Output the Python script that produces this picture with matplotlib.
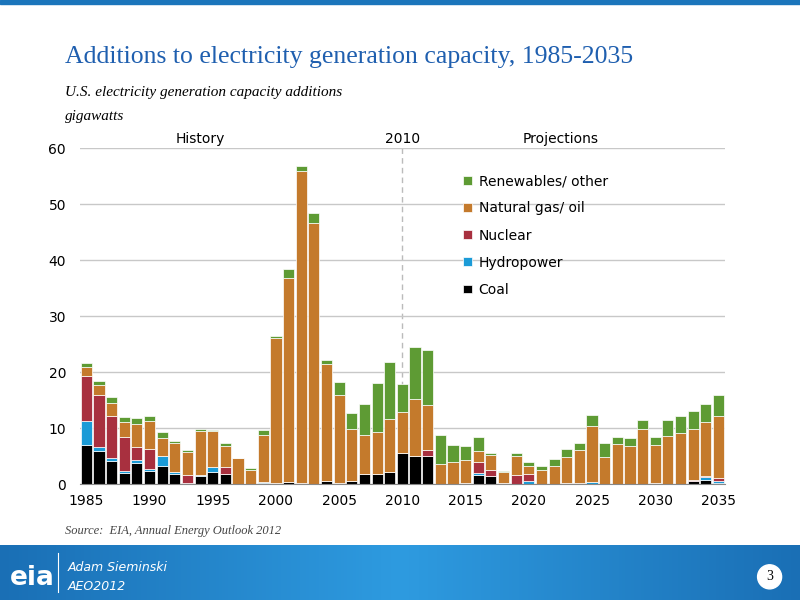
import matplotlib
matplotlib.use("Agg")
import matplotlib.pyplot as plt
import numpy as np
from matplotlib.patches import Rectangle, Ellipse

years = np.arange(1985, 2036)
coal = [7.0, 6.0, 4.2, 2.0, 3.7, 2.3, 3.3, 1.8, 0.2, 1.4, 2.1, 1.8, 0, 0, 0.3,
        0.2, 0.4, 0, 0, 0.5, 0.3, 0.5, 1.8, 1.8, 2.1, 5.5, 5.0, 5.0,
        0, 0, 0, 1.7, 1.4, 0.3, 0, 0, 0, 0, 0, 0, 0, 0, 0, 0, 0, 0, 0, 0, 0.5, 0.8, 0.3]
hydro = [4.2, 0.7, 0.4, 0.4, 0.6, 0.5, 1.7, 0.3, 0.1, 0.2, 1.0, 0, 0, 0, 0.1,
         0, 0, 0.3, 0, 0, 0, 0, 0, 0, 0, 0, 0, 0,
         0, 0, 0.3, 0.3, 0, 0, 0, 0.5, 0, 0, 0.2, 0.2, 0.4, 0.1, 0.1, 0.1, 0.1, 0.3, 0.1, 0.1, 0, 0.4, 0.3]
nuclear = [8.1, 9.2, 7.5, 6.0, 2.3, 3.5, 0, 0, 1.4, 0, 0, 1.2, 0, 0, 0,
           0, 0, 0, 0, 0, 0, 0, 0, 0, 0, 0, 0, 1.1,
           0, 0, 0, 2.0, 1.1, 0, 1.7, 1.4, 0, 0, 0, 0, 0, 0, 0, 0, 0, 0, 0, 0, 0.3, 0.3, 0.5]
gas = [1.7, 1.8, 2.4, 2.7, 4.1, 4.9, 3.3, 5.3, 4.0, 7.9, 6.4, 3.9, 4.6, 2.5, 8.35,
       25.9, 36.4, 55.6, 46.7, 21.0, 15.7, 9.3, 6.95, 7.5, 9.5, 7.4, 10.3, 8.0,
       3.6, 4.05, 4.0, 2.0, 2.8, 1.8, 3.3, 1.4, 2.6, 3.2, 4.6, 5.9, 10.0, 4.7, 7.0, 6.8,
       9.8, 6.7, 8.5, 9.0, 9.1, 9.6, 11.1]
renew = [0.6, 0.8, 1.0, 0.9, 1.1, 0.9, 1.0, 0.4, 0.4, 0.4, 0.2, 0.5, 0.1, 0.4, 0.85,
         0.3, 1.7, 0.9, 1.8, 0.6, 2.2, 2.9, 5.65, 8.7, 10.2, 5.0, 9.2, 9.9,
         5.15, 2.95, 2.5, 2.5, 0.2, 0.2, 0.5, 0.7, 0.7, 1.3, 1.45, 1.3, 1.9, 2.5, 1.3, 1.4,
         1.5, 1.4, 2.8, 3.0, 3.2, 3.3, 3.8]

series = [("Coal", coal, "#000000"), ("Hydropower", hydro, "#1B9BD7"),
          ("Nuclear", nuclear, "#A8303F"), ("Natural gas/ oil", gas, "#C47A2C"),
          ("Renewables/ other", renew, "#5E9B34")]

fig = plt.figure(figsize=(8, 6), dpi=100)
ax = fig.add_axes([0.1, 0.193, 0.806, 0.56])

bottom = np.zeros(len(years))
handles = []
for name, vals, col in series:
    vals = np.array(vals, dtype=float)
    b = ax.bar(years, vals, 0.88, bottom=bottom, color=col, edgecolor="white",
               linewidth=0.5, label=name)
    handles.append(b)
    bottom += vals

ax.set_xlim(1984.5, 2035.5)
ax.set_ylim(0, 60)
ax.set_yticks(range(0, 61, 10))
ax.set_xticks(range(1985, 2036, 5))
ax.tick_params(labelsize=10, length=0)
ax.tick_params(axis="y", pad=10)
ax.tick_params(axis="x", length=4, direction="in", color="#888888", pad=7)
ax.yaxis.grid(True, color="#c8c8c8", lw=1)
ax.set_axisbelow(True)
for s in ["top", "right", "left"]:
    ax.spines[s].set_visible(False)
ax.spines["bottom"].set_color("#888888")
ax.axvline(2010, color="#bbbbbb", ls=(0, (4, 3)), lw=1, zorder=0.5)
ax.text(1994, 60.4, "History", ha="center", va="bottom", fontsize=10)
ax.text(2010, 60.4, "2010", ha="center", va="bottom", fontsize=10)
ax.text(2022.5, 60.4, "Projections", ha="center", va="bottom", fontsize=10)

ax.legend(handles[::-1], [s[0] for s in series][::-1], loc="upper left",
          bbox_to_anchor=(0.575, 0.96), frameon=False, fontsize=10,
          handlelength=0.6, handleheight=0.6, labelspacing=0.95, handletextpad=0.5)

fig.text(0.081, 0.895, "Additions to electricity generation capacity, 1985-2035",
         color="#1F5FAF", fontsize=18.5, family="Liberation Serif")
fig.text(0.081, 0.84, "U.S. electricity generation capacity additions",
         fontsize=11, style="italic", family="Liberation Serif")
fig.text(0.081, 0.80, "gigawatts", fontsize=11, style="italic", family="Liberation Serif")
fig.text(0.081, 0.11, "Source:  EIA, Annual Energy Outlook 2012", fontsize=9,
         style="italic", family="Liberation Serif", color="#444444")

# top and footer bands
fig.patches.append(Rectangle((0, 0.993), 1, 0.007, transform=fig.transFigure,
                             color="#1B75BB", zorder=0))
grad = np.linspace(0, 1, 256).reshape(1, -1)
fax = fig.add_axes([0, 0, 1, 0.092])
fax.imshow(grad, aspect="auto", cmap=matplotlib.colors.LinearSegmentedColormap.from_list(
    "b", ["#1A6FB5", "#2E9BE0", "#1A6FB5"]), extent=[0, 1, 0, 1])
fax.set_xlim(0, 1)
fax.set_ylim(0, 1)
fax.axis("off")
fax.text(0.012, 0.4, "eia", color="white", fontsize=19, fontweight="bold", va="center")
fax.plot([0.072, 0.072], [0.15, 0.85], color="white", lw=0.8)
fax.text(0.085, 0.58, "Adam Sieminski", color="white", fontsize=9, style="italic", va="center")
fax.text(0.085, 0.25, "AEO2012", color="white", fontsize=9, style="italic", va="center")
fax.add_patch(Ellipse((0.962, 0.42), 0.03, 0.436, color="white"))
fax.text(0.962, 0.42, "3", fontsize=10, family="Liberation Serif", ha="center", va="center")

fig.savefig("out.png", dpi=100)
